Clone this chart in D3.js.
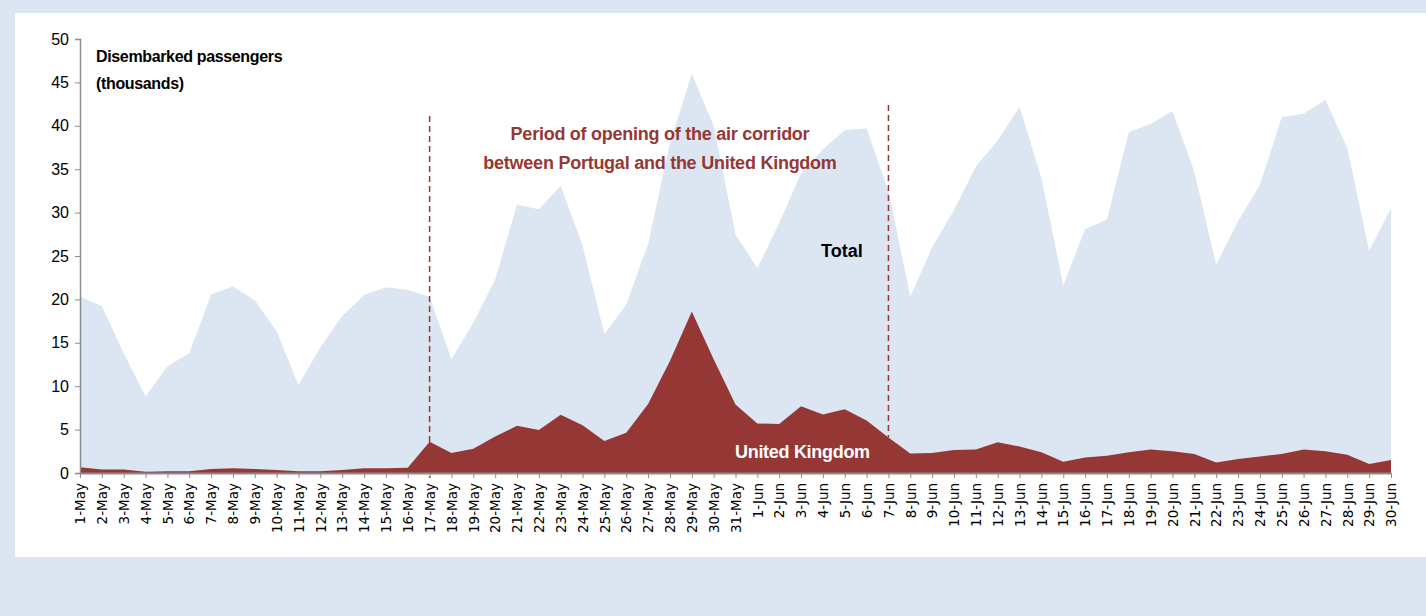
<!DOCTYPE html>
<html><head><meta charset="utf-8">
<script src="https://cdn.jsdelivr.net/npm/d3@7"></script>
<style>
html,body{margin:0;padding:0;background:#dce6f2;}
svg{display:block;}
</style></head>
<body>
<svg id="chart" width="1426" height="616"></svg>
<script>
const days = ["1-May","2-May","3-May","4-May","5-May","6-May","7-May","8-May","9-May","10-May","11-May","12-May","13-May","14-May","15-May","16-May","17-May","18-May","19-May","20-May","21-May","22-May","23-May","24-May","25-May","26-May","27-May","28-May","29-May","30-May","31-May","1-Jun","2-Jun","3-Jun","4-Jun","5-Jun","6-Jun","7-Jun","8-Jun","9-Jun","10-Jun","11-Jun","12-Jun","13-Jun","14-Jun","15-Jun","16-Jun","17-Jun","18-Jun","19-Jun","20-Jun","21-Jun","22-Jun","23-Jun","24-Jun","25-Jun","26-Jun","27-Jun","28-Jun","29-Jun","30-Jun"];
const total = [20.3,19.2,13.8,8.8,12.3,13.8,20.6,21.5,19.9,16.3,10.1,14.5,18.1,20.5,21.4,21.1,20.3,13.1,17.3,22.3,30.9,30.4,33.1,26.2,16.0,19.4,26.4,38.0,46.0,40.0,27.5,23.6,28.8,34.5,37.3,39.5,39.7,32.5,20.3,26.0,30.3,35.3,38.3,42.2,34.0,21.6,28.1,29.2,39.3,40.2,41.7,34.7,24.0,29.0,33.2,41.0,41.4,43.0,37.4,25.6,30.5];
const uk = [0.65,0.4,0.4,0.15,0.2,0.2,0.45,0.55,0.45,0.35,0.2,0.2,0.35,0.55,0.55,0.6,3.6,2.3,2.8,4.2,5.45,4.95,6.7,5.5,3.7,4.65,7.95,12.9,18.6,13.1,7.9,5.7,5.65,7.7,6.75,7.35,6.05,4.1,2.25,2.3,2.65,2.7,3.55,3.05,2.4,1.3,1.8,2.0,2.4,2.7,2.5,2.2,1.2,1.6,1.9,2.2,2.7,2.5,2.1,1.05,1.5];
const yTicks = [0,5,10,15,20,25,30,35,40,45,50];
const corridorStart = "17-May", corridorEnd = "7-Jun";

const svg = d3.select("#chart");
svg.append("rect").attr("x",15).attr("y",13).attr("width",1411).attr("height",544).attr("fill","#ffffff");

const x = d3.scalePoint().domain(days).range([80,1391]);
const y = d3.scaleLinear().domain([0,50]).range([473,39]);

const areaGen = vals => d3.area().x((d,i)=>x(days[i])).y0(y(0)).y1(d=>y(d))(vals);
svg.append("path").attr("d",areaGen(total)).attr("fill","#dce6f2");

const dashColor = "#953735";
svg.append("path").attr("d",areaGen(uk)).attr("fill","#953735");
svg.append("line").attr("x1",x(corridorStart)).attr("x2",x(corridorStart))
  .attr("y1",116).attr("y2",478).attr("stroke",dashColor).attr("stroke-width",1.5).attr("stroke-dasharray","6,4");
svg.append("line").attr("x1",x(corridorEnd)).attr("x2",x(corridorEnd))
  .attr("y1",105).attr("y2",y(uk[days.indexOf(corridorEnd)])).attr("stroke",dashColor).attr("stroke-width",1.5).attr("stroke-dasharray","6,4");

// axes
const yAxis = svg.append("g").attr("transform","translate(80,0)")
  .call(d3.axisLeft(y).tickValues(yTicks).tickSize(5).tickPadding(6));
yAxis.select(".domain").attr("stroke","#8c8c8c").attr("stroke-width",1.5);
yAxis.selectAll(".tick line").attr("stroke","#8c8c8c");
yAxis.selectAll("text").attr("font-family","Liberation Sans, Arial, sans-serif").attr("font-size",16).attr("fill","#000");

const xAxis = svg.append("g").attr("transform","translate(0,473)")
  .call(d3.axisBottom(x).tickSize(5).tickSizeOuter(0));
xAxis.select(".domain").attr("stroke","#8c8c8c").attr("stroke-width",2);
xAxis.selectAll(".tick line").attr("stroke","#8c8c8c");
xAxis.selectAll("text").attr("font-family","DejaVu Sans, sans-serif").attr("font-size",13.5).attr("fill","#000")
  .attr("transform","rotate(-90)").attr("text-anchor","end").attr("dx",-10).attr("dy","0.35em").attr("x",0).attr("y",0);

// annotations
const font = "Liberation Sans Narrow, Liberation Sans, Arial, sans-serif";
const t1 = svg.append("text").attr("x",96).attr("font-family",font).attr("font-weight","bold").attr("font-size",16).attr("letter-spacing",-0.35).attr("fill","#000");
t1.append("tspan").attr("x",96).attr("y",62).text("Disembarked passengers");
t1.append("tspan").attr("x",96).attr("y",89).text("(thousands)");

const t2 = svg.append("text").attr("font-family",font).attr("font-weight","bold").attr("font-size",18).attr("letter-spacing",-0.25).attr("fill","#953735").attr("text-anchor","middle");
t2.append("tspan").attr("x",660).attr("y",140).text("Period of opening of the air corridor");
t2.append("tspan").attr("x",660).attr("y",169).text("between Portugal and the United Kingdom");

svg.append("text").attr("x",821).attr("y",257).attr("font-family",font).attr("font-weight","bold").attr("font-size",18).attr("fill","#000").text("Total");
svg.append("text").attr("x",735).attr("y",458).attr("font-family",font).attr("font-weight","bold").attr("font-size",18).attr("letter-spacing",-0.3).attr("fill","#fff").text("United Kingdom");
</script>
</body></html>
